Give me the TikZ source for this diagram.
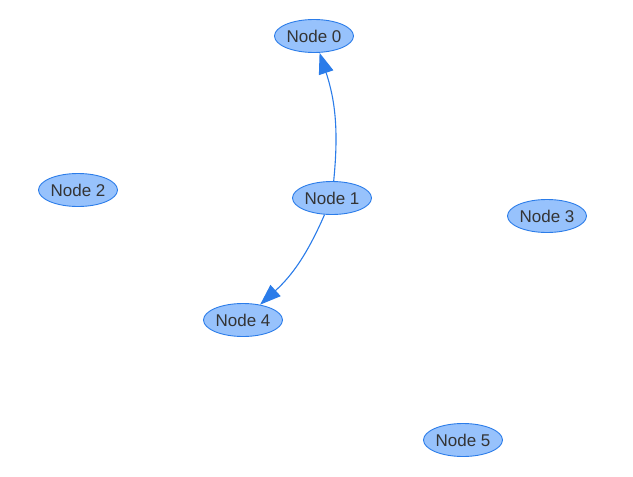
\documentclass[tikz,border=0pt]{standalone}
\usepackage{fontspec}
\setmainfont{Liberation Sans}
\usetikzlibrary{arrows.meta,shapes.geometric}
\definecolor{nfill}{HTML}{97C2FC}
\definecolor{nborder}{HTML}{2B7CE9}
\definecolor{ntext}{HTML}{343434}
\tikzset{
  nd/.style={ellipse, draw=nborder, fill=nfill, line width=0.9pt, minimum width=79pt, minimum height=33pt, inner sep=0pt, text=ntext, font=\fontsize{17}{19}\selectfont},
  edge/.style={draw=nborder, line width=1.1pt, -{Triangle[length=21pt,width=15pt]}}
}
\begin{document}
\begin{tikzpicture}[x=1pt,y=1pt]
\useasboundingbox (0,0) rectangle (633,-477);
\node[nd] (n0) at (314,-36) {Node 0};
\node[nd] (n1) at (332,-198) {Node 1};
\node[nd] (n2) at (78,-190) {Node 2};
\node[nd] (n3) at (547,-216) {Node 3};
\node[nd] (n4) at (243,-320) {Node 4};
\node[nd] (n5) at (463,-440) {Node 5};
\draw[edge] (n1) to[bend right=12] (n0);
\draw[edge] (n1) to[bend left=12] (n4);
\end{tikzpicture}
\end{document}
